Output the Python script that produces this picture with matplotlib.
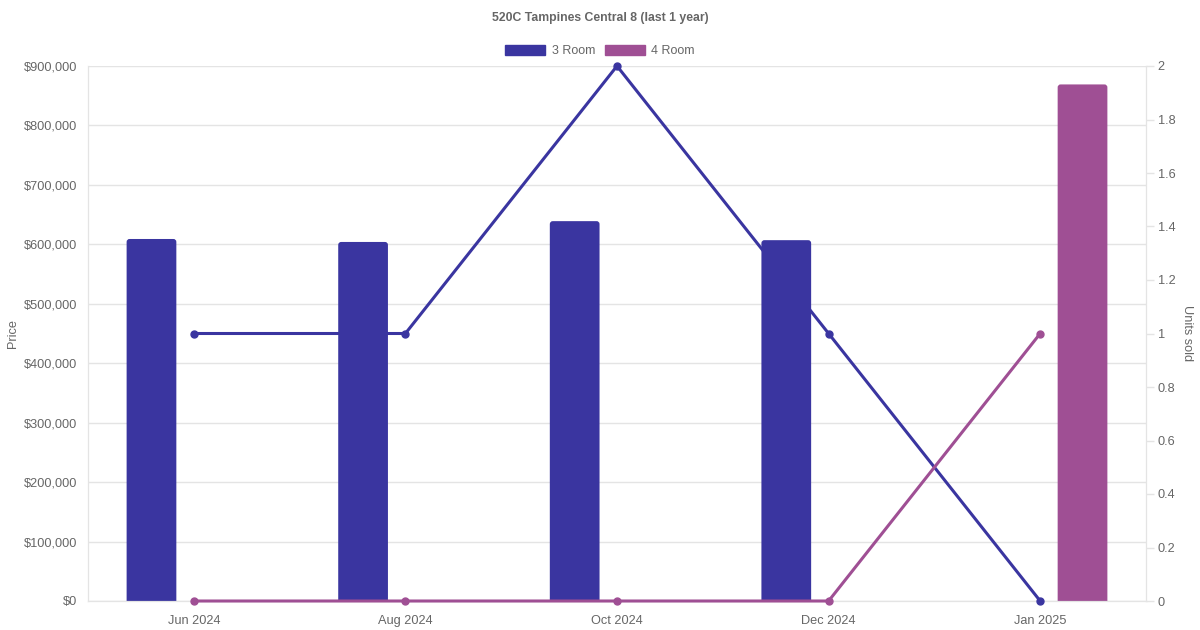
import matplotlib.pyplot as plt
import matplotlib.ticker as mticker
from matplotlib.patches import Patch, FancyBboxPatch
import numpy as np

plt.rcParams['font.family'] = ['Liberation Sans', 'DejaVu Sans']

# data
months = ["Jun 2024", "Aug 2024", "Oct 2024", "Dec 2024", "Jan 2025"]
price_3room = [609000, 604000, 639000, 607000, 0]
price_4room = [0, 0, 0, 0, 869000]
units_3room = [1, 1, 2, 1, 0]
units_4room = [0, 0, 0, 0, 1]

c3 = "#3a35a0"
c4 = "#9f4f94"
grey = "#666666"
gridc = "#e4e4e4"

fig = plt.figure(figsize=(12, 6.3), dpi=100)
ax = fig.add_axes([88 / 1200, 29 / 630, 1058 / 1200, 535 / 630])
ax2 = ax.twinx()

x = np.arange(len(months))
w = 0.235
off = 0.2
bars = []
for i in range(len(months)):
    if price_3room[i] > 0:
        bars += list(ax.bar(x[i] - off, price_3room[i], w, color=c3, zorder=2))
    if price_4room[i] > 0:
        bars += list(ax.bar(x[i] + off, price_4room[i], w, color=c4, zorder=2))

# swap plain bars for ones with slightly rounded tops
for b in bars:
    bx, by = b.get_xy()
    r = FancyBboxPatch((bx, by - 20000), b.get_width(), b.get_height() + 20000,
                       boxstyle="round,pad=0,rounding_size=0.014", mutation_aspect=355000,
                       facecolor=b.get_facecolor(), edgecolor="none", zorder=2)
    b.remove()
    ax.add_patch(r)

ax.set_xlim(-0.5, len(months) - 0.5)
ax.set_ylim(0, 900000)
ax.set_yticks(np.arange(0, 900001, 100000))
ax.yaxis.set_major_formatter(mticker.FuncFormatter(lambda v, p: "${:,.0f}".format(v)))
ax.set_xticks(x)
ax.set_xticklabels(months, va="baseline")
ax.grid(axis="y", color=gridc, linewidth=1, zorder=0)
ax.set_axisbelow(True)

ax2.plot(x, units_3room, color=c3, linewidth=2.2, marker="o", markersize=5, zorder=3, clip_on=False)
ax2.plot(x, units_4room, color=c4, linewidth=2.2, marker="o", markersize=5, zorder=3, clip_on=False)
ax2.set_ylim(0, 2)
ax2.set_yticks(np.arange(0, 2.01, 0.2))
ax2.yaxis.set_major_formatter(mticker.FuncFormatter(lambda v, p: "{:g}".format(round(v, 1))))

for a in (ax, ax2):
    for s in a.spines.values():
        s.set_color(gridc)
    a.spines["top"].set_visible(False)
ax.tick_params(axis="x", length=0, pad=16.5, labelcolor=grey, labelsize=9.2)
ax.tick_params(axis="y", length=0, pad=8, labelcolor=grey, labelsize=9.2)
ax2.tick_params(axis="y", length=5.5, width=1, color=gridc, pad=3, labelcolor=grey, labelsize=9.2)

ax.set_ylabel("Price", color=grey, fontsize=9.2, va="center")
ax.yaxis.set_label_coords(-0.0708, 0.5)
ax2.set_ylabel("Units sold", color=grey, fontsize=9.2, rotation=-90, va="center")
ax2.yaxis.set_label_coords(1.0388, 0.5)

fig.text(0.5, 1 - 17.5 / 630, "520C Tampines Central 8 (last 1 year)", ha="center", va="center",
         color=grey, fontsize=8.8, fontweight="bold")

handles = [Patch(facecolor=c3, edgecolor=c3), Patch(facecolor=c4, edgecolor=c4)]
fig.legend(handles, ["3 Room", "4 Room"], loc="center", bbox_to_anchor=(0.5, 1 - 51 / 630),
           ncol=2, frameon=False, fontsize=9, labelcolor=grey, handlelength=3.2,
           handleheight=0.95, handletextpad=0.5, columnspacing=0.8, borderpad=0)

fig.savefig("out.png", dpi=100)
